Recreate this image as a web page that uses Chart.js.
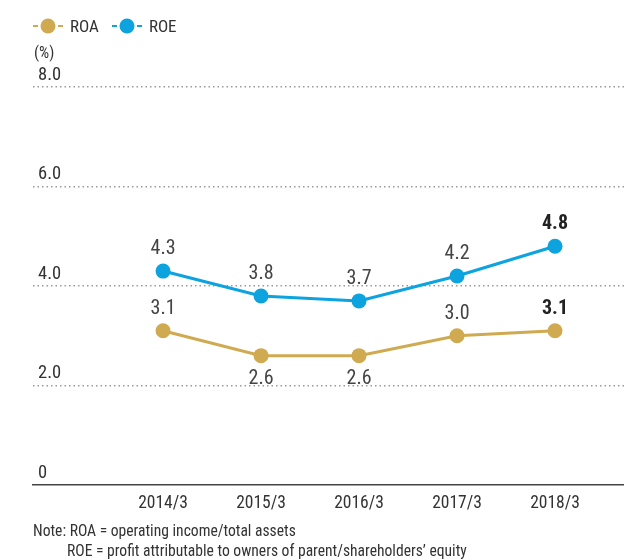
<!DOCTYPE html>
<html>
<head>
<meta charset="utf-8">
<script src="https://cdn.jsdelivr.net/npm/chart.js@4/dist/chart.umd.min.js"></script>
<style>
    body { margin: 0; background: #fff; }
    #wrap { position: relative; width: 624px; height: 560px; font-family: "Liberation Sans Narrow", "Roboto Condensed", "DejaVu Sans Condensed", sans-serif; color: #333; }
    canvas { position: absolute; left: 0; top: 0; }
    .legend { position: absolute; top: 16px; left: 32px; display: flex; font-size: 17px; }
    .legend span.item { display: flex; align-items: center; margin-right: 12px; }
    .legend canvas { position: static; margin-right: 6px; }
    .unit { position: absolute; left: 34px; top: 43px; font-size: 16px; }
    .note { position: absolute; left: 33px; top: 521px; font-size: 15.6px; line-height: 20px; }
</style>
</head>
<body>
<div id="wrap">
    <canvas id="chart" width="624" height="560"></canvas>
    <div class="legend" id="legend"></div>
    <div class="unit">(%)</div>
    <div class="note">Note: ROA = operating income/total assets<br><span style="padding-left:34px">ROE = profit attributable to owners of parent/shareholders’ equity</span></div>
</div>
<script>
// Data
const years = ['2014/3', '2015/3', '2016/3', '2017/3', '2018/3'];
const roa = [3.1, 2.6, 2.6, 3.0, 3.1];
const roe = [4.3, 3.8, 3.7, 4.2, 4.8];
const roaLabelPos = ['top', 'bottom', 'bottom', 'top', 'top'];
const roeLabelPos = ['top', 'top', 'top', 'top', 'top'];
const yTicks = ['0', '2.0', '4.0', '6.0', '8.0'];

const gold = '#CFAA50';
const blue = '#0CA3DF';
const font = '"Liberation Sans Narrow", "Roboto Condensed", "DejaVu Sans Condensed", sans-serif';

// Legend (line - dot - line)
const legend = document.getElementById('legend');
[['ROA', gold], ['ROE', blue]].forEach(([name, color]) => {
    const item = document.createElement('span');
    item.className = 'item';
    const c = document.createElement('canvas');
    c.width = 32; c.height = 20;
    const g = c.getContext('2d');
    g.strokeStyle = color;
    g.lineWidth = 2;
    g.beginPath(); g.moveTo(1, 10); g.lineTo(6, 10); g.moveTo(26, 10); g.lineTo(31, 10); g.stroke();
    g.fillStyle = color;
    g.beginPath(); g.arc(16, 10, 7.5, 0, Math.PI * 2); g.fill();
    item.appendChild(c);
    item.appendChild(document.createTextNode(name));
    legend.appendChild(item);
});

// Value labels above / below the points
const valueLabels = {
    id: 'valueLabels',
    afterDatasetsDraw(chart) {
        const ctx = chart.ctx;
        ctx.save();
        ctx.textAlign = 'center';
        ctx.textBaseline = 'middle';
        chart.data.datasets.forEach((ds, i) => {
            const meta = chart.getDatasetMeta(i);
            meta.data.forEach((pt, j) => {
                const last = j === ds.data.length - 1;
                ctx.font = (last ? 'bold ' : '') + '20px ' + font;
                ctx.fillStyle = last ? '#222' : '#444';
                const dy = ds.labelPos[j] === 'top' ? -22 : 23;
                ctx.fillText(ds.data[j].y.toFixed(1), pt.x, pt.y + dy);
            });
        });
        ctx.restore();
    }
};

function series(values) {
    return values.map((v, i) => ({ x: i, y: v }));
}

new Chart(document.getElementById('chart'), {
    type: 'line',
    data: {
        datasets: [{
            label: 'ROA',
            data: series(roa),
            labelPos: roaLabelPos,
            borderColor: gold,
            backgroundColor: gold,
            borderWidth: 3,
            pointRadius: 7.5,
            pointBorderWidth: 0,
            tension: 0
        }, {
            label: 'ROE',
            data: series(roe),
            labelPos: roeLabelPos,
            borderColor: blue,
            backgroundColor: blue,
            borderWidth: 3,
            pointRadius: 7.5,
            pointBorderWidth: 0,
            tension: 0
        }]
    },
    options: {
        responsive: false,
        animation: false,
        layout: { autoPadding: false, padding: { top: 87, right: 0, left: 0, bottom: 0 } },
        plugins: {
            legend: { display: false },
            tooltip: { enabled: false }
        },
        scales: {
            x: {
                type: 'linear',
                min: -1.327,
                max: 4.704,
                afterBuildTicks: scale => { scale.ticks = years.map((y, i) => ({ value: i })); },
                afterFit: scale => { scale.height = 75; },
                grid: { display: false, drawTicks: false },
                border: { display: true, color: '#444', width: 1.5 },
                ticks: {
                    callback: v => years[v],
                    padding: 8,
                    color: '#333',
                    font: { family: font, size: 17.5 },
                    maxRotation: 0
                }
            },
            y: {
                min: 0,
                max: 8,
                afterFit: scale => { scale.width = 33; },
                grid: {
                    drawTicks: false,
                    color: c => c.tick && c.tick.value === 0 ? 'rgba(0,0,0,0)' : '#999',
                    lineWidth: 1.5
                },
                border: { display: false, dash: [1.5, 3] },
                ticks: {
                    stepSize: 2,
                    mirror: true,
                    padding: 5,
                    labelOffset: -12,
                    callback: (v, i) => yTicks[i],
                    color: '#333',
                    font: { family: font, size: 18.5 }
                }
            }
        }
    },
    plugins: [valueLabels]
});
</script>
</body>
</html>
